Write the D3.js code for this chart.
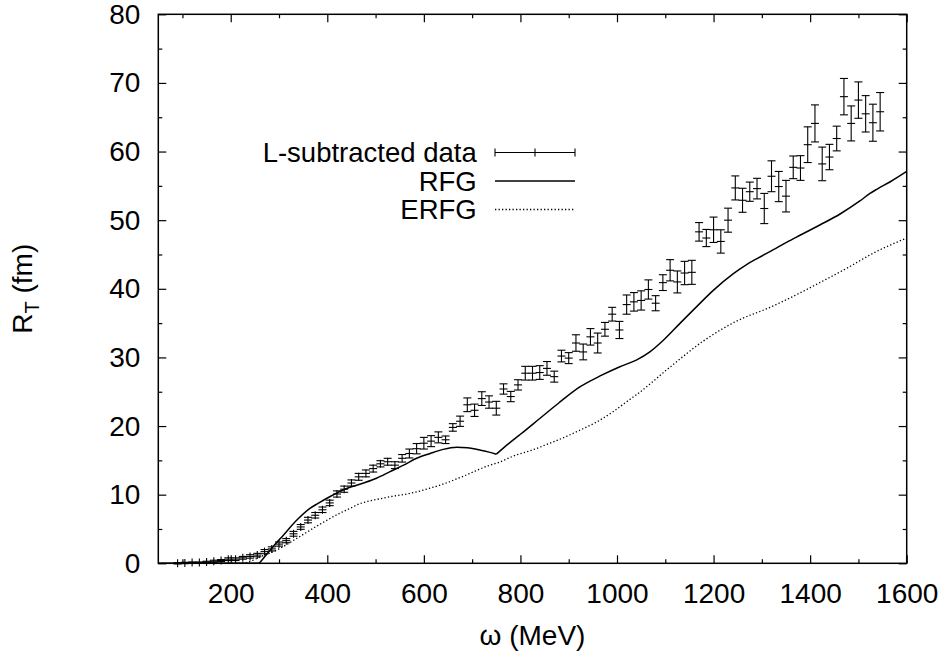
<!DOCTYPE html>
<html>
<head>
<meta charset="utf-8">
<script src="https://cdn.jsdelivr.net/npm/d3@7"></script>
<style>
  body { margin: 0; background: #fff; }
  text { font-family: "Liberation Sans", Arial, Helvetica, sans-serif; fill: #000; }
</style>
</head>
<body>
<svg id="chart" width="949" height="657"></svg>
<script>
// L-subtracted data: omega (MeV), R_T (fm), error
const omega = [
  90, 105, 120, 135, 150, 165, 180, 195, 210, 225, 240, 255, 270, 285, 300,
  315, 330, 345, 360, 375, 390, 405, 420, 435, 450,
  465, 480, 495, 510, 525, 540, 555, 570, 585, 600,
  615, 630, 645, 660, 675, 690, 705, 720, 735, 750,
  765, 780, 795, 810, 825, 840, 855, 870, 885, 900,
  915, 930, 945, 960, 975, 990, 1005, 1020, 1035, 1050,
  1065, 1080, 1095, 1110, 1125, 1140, 1155, 1170, 1185, 1200,
  1215, 1230, 1245, 1260, 1275, 1290, 1305, 1320, 1335, 1350,
  1365, 1380, 1395, 1410, 1425, 1440, 1455, 1470, 1485, 1500,
  1515, 1530, 1545
];
const rtData = [
  0.0, 0.05, 0.1, 0.1, 0.2, 0.3, 0.4, 0.6, 0.6, 0.8, 1.0, 1.2, 1.7, 2.1, 2.8,
  3.3, 4.3, 5.3, 6.3, 7.0, 7.8, 8.8, 10.1, 10.8, 11.7,
  12.6, 13.1, 13.8, 14.5, 14.8, 14.3, 15.3, 16.0, 16.7, 17.5,
  17.8, 18.35, 18.0, 19.8, 20.7, 23.1, 22.3, 24.0, 23.5, 22.6,
  25.4, 24.3, 26.0, 27.7, 27.7, 27.8, 28.4, 27.2, 30.2, 29.9,
  32.1, 30.8, 33.0, 32.1, 34.1, 36.3, 34.0, 37.7, 38.1, 38.3,
  39.9, 37.9, 40.9, 42.7, 41.0, 42.3, 42.4, 48.3, 47.4, 48.6,
  46.9, 50.0, 54.7, 52.9, 54.15, 54.6, 51.7, 56.4, 54.9, 53.5,
  57.7, 57.6, 61.0, 64.1, 58.2, 59.2, 61.9, 68.0, 64.1, 67.5,
  65.5, 64.2, 65.8
];
const rtErr = [
  0.1, 0.1, 0.1, 0.1, 0.1, 0.15, 0.15, 0.2, 0.2, 0.2, 0.25, 0.25, 0.3, 0.3, 0.3,
  0.3, 0.35, 0.35, 0.4, 0.4, 0.4, 0.4, 0.45, 0.45, 0.45,
  0.5, 0.5, 0.5, 0.45, 0.5, 0.5, 0.55, 0.65, 0.75, 0.85,
  0.8, 0.8, 0.55, 0.55, 0.75, 1.0, 0.9, 1.0, 0.9, 1.0,
  0.75, 0.75, 0.75, 1.0, 1.0, 1.0, 1.0, 0.8, 0.85, 0.8,
  1.2, 1.15, 1.2, 1.45, 1.0, 1.0, 1.25, 1.4, 1.35, 1.4,
  1.4, 1.1, 1.15, 1.55, 1.6, 1.7, 1.75, 1.35, 1.25, 1.85,
  1.7, 1.75, 1.75, 1.75, 1.4, 1.5, 2.2, 2.25, 2.2, 2.3,
  1.65, 1.8, 2.6, 2.7, 2.45, 1.85, 1.8, 2.65, 2.55, 2.65,
  2.65, 2.7, 2.8
];

// RFG curve (threshold at 259 MeV, cusp at 750 MeV)
const rfgOmega = [50, 259, 272, 285, 309, 337, 364, 380, 405, 440, 475, 502, 530, 558, 585,
  613, 640, 668, 690, 716, 735, 750, 775, 800, 840, 880, 923, 965, 1006, 1040, 1068, 1096,
  1131, 1165, 1200, 1241, 1270, 1290, 1324, 1352, 1379, 1420, 1462, 1503, 1524, 1538, 1566, 1600];
const rfgR = [0, 0, 1.1, 2.2, 4.1, 6.3, 8.0, 8.7, 9.7, 10.9, 11.7, 12.4, 13.35, 14.3, 15.3,
  16.0, 16.6, 16.9, 16.85, 16.5, 16.2, 15.9, 17.4, 18.8, 21.1, 23.4, 25.7, 27.3, 28.65, 29.6, 30.8, 32.5,
  35.0, 37.4, 39.8, 42.2, 43.6, 44.4, 45.7, 46.8, 47.8, 49.3, 50.9, 52.8, 53.9, 54.5, 55.6, 57.1];

// ERFG curve
const erfgOmega = [50, 220, 235, 260, 300, 343, 385, 426, 447, 468, 482, 509, 530, 565, 585,
  610, 634, 682, 737, 751, 792, 820, 861, 889, 920, 958, 990, 1027, 1041, 1110, 1179, 1248,
  1317, 1365, 1420, 1476, 1531, 1600];
const erfgR = [0, 0, 0.15, 0.9, 2.1, 3.9, 5.7, 7.3, 8.0, 8.7, 9.0, 9.4, 9.7, 10.1, 10.4,
  10.9, 11.4, 12.7, 14.3, 14.6, 15.8, 16.4, 17.5, 18.3, 19.3, 20.6, 22.0, 23.9, 24.6, 28.6, 32.4, 35.3,
  37.3, 38.9, 40.9, 43.0, 45.2, 47.4];

const xTicks = [200, 400, 600, 800, 1000, 1200, 1400, 1600];
const xMinor = [100, 300, 500, 700, 900, 1100, 1300, 1500];
const yTicks = [0, 10, 20, 30, 40, 50, 60, 70, 80];
const yMinor = [5, 15, 25, 35, 45, 55, 65, 75];

const legendLabels = ["L-subtracted data", "RFG", "ERFG"];

const svg = d3.select("#chart");
const fontSize = 28;

const x = d3.scaleLinear().domain([50, 1600]).range([158.3, 906.7]);
const y = d3.scaleLinear().domain([0, 80]).range([563.3, 14.3]);
const [x0, x1] = x.range();
const [y0, y1] = y.range();

function styleAxis(g) {
  g.select(".domain").remove();
  g.selectAll(".tick line").attr("stroke", "#000").attr("stroke-width", 1.2);
  g.selectAll(".tick text").attr("font-size", fontSize).attr("font-family", null);
}

// bottom axis with labels
svg.append("g").attr("transform", `translate(0,${y0})`)
  .call(d3.axisBottom(x).tickValues(xTicks).tickSize(-8).tickPadding(20).tickFormat(d3.format("d")))
  .call(styleAxis);
svg.append("g").attr("transform", `translate(0,${y0})`)
  .call(d3.axisBottom(x).tickValues(xMinor).tickSize(-4).tickFormat(""))
  .call(styleAxis);
// top mirror
svg.append("g").attr("transform", `translate(0,${y1})`)
  .call(d3.axisTop(x).tickValues(xTicks).tickSize(-8).tickFormat(""))
  .call(styleAxis);
svg.append("g").attr("transform", `translate(0,${y1})`)
  .call(d3.axisTop(x).tickValues(xMinor).tickSize(-4).tickFormat(""))
  .call(styleAxis);
// left axis with labels
svg.append("g").attr("transform", `translate(${x0},0)`)
  .call(d3.axisLeft(y).tickValues(yTicks).tickSize(-8).tickPadding(18))
  .call(styleAxis);
svg.append("g").attr("transform", `translate(${x0},0)`)
  .call(d3.axisLeft(y).tickValues(yMinor).tickSize(-4).tickFormat(""))
  .call(styleAxis);
// right mirror
svg.append("g").attr("transform", `translate(${x1},0)`)
  .call(d3.axisRight(y).tickValues(yTicks).tickSize(-8).tickFormat(""))
  .call(styleAxis);
svg.append("g").attr("transform", `translate(${x1},0)`)
  .call(d3.axisRight(y).tickValues(yMinor).tickSize(-4).tickFormat(""))
  .call(styleAxis);

// frame
svg.append("rect")
  .attr("x", x0).attr("y", y1)
  .attr("width", x1 - x0).attr("height", y0 - y1)
  .attr("fill", "none").attr("stroke", "#000").attr("stroke-width", 1.5);

// axis titles
svg.append("text")
  .attr("x", (x0 + x1) / 2).attr("y", 645)
  .attr("text-anchor", "middle").attr("font-size", fontSize)
  .text("ω (MeV)");

const yTitle = svg.append("text")
  .attr("transform", `translate(32,${(y0 + y1) / 2}) rotate(-90)`)
  .attr("text-anchor", "middle").attr("font-size", fontSize);
yTitle.append("tspan").text("R");
yTitle.append("tspan").attr("font-size", 20).attr("dy", 7).text("T");
yTitle.append("tspan").attr("dy", -7).text(" (fm)");

// curves
const smooth = d3.line().x(d => x(d[0])).y(d => y(d[1])).curve(d3.curveMonotoneX);
const rfgPts = rfgOmega.map((w, i) => [w, rfgR[i]]);
const cusp = rfgOmega.indexOf(750);
const thr = rfgOmega.indexOf(259);
[rfgPts.slice(0, thr + 1), rfgPts.slice(thr, cusp + 1), rfgPts.slice(cusp)].forEach(seg => {
  svg.append("path")
    .datum(seg)
    .attr("d", smooth).attr("fill", "none").attr("stroke", "#000").attr("stroke-width", 1.5);
});
svg.append("path")
  .datum(erfgOmega.map((w, i) => [w, erfgR[i]]))
  .attr("d", smooth).attr("fill", "none").attr("stroke", "#000").attr("stroke-width", 1.3)
  .attr("stroke-dasharray", "1.3,2.2");

// data with error bars
const cap = 4;
const pts = svg.append("g").attr("stroke", "#000").attr("stroke-width", 1.1);
omega.forEach((w, i) => {
  const cx = x(w), cy = y(rtData[i]);
  const yl = y(rtData[i] - rtErr[i]), yh = y(rtData[i] + rtErr[i]);
  const g = pts.append("g");
  g.append("line").attr("x1", cx).attr("x2", cx).attr("y1", Math.max(yl, cy + 4)).attr("y2", Math.min(yh, cy - 4));
  g.append("line").attr("x1", cx - cap).attr("x2", cx + cap).attr("y1", yl).attr("y2", yl);
  g.append("line").attr("x1", cx - cap).attr("x2", cx + cap).attr("y1", yh).attr("y2", yh);
  g.append("line").attr("x1", cx - cap).attr("x2", cx + cap).attr("y1", cy).attr("y2", cy);
});

// legend
const legX = 476.7, sx0 = 495, sx1 = 575;
const legY = [152.5, 181, 209.5];
legendLabels.forEach((lab, i) => {
  svg.append("text")
    .attr("x", legX).attr("y", legY[i]).attr("dy", "0.35em")
    .attr("text-anchor", "end").attr("font-size", 27.5)
    .text(lab);
});
const lg = svg.append("g").attr("stroke", "#000").attr("stroke-width", 1.1);
lg.append("line").attr("x1", sx0).attr("x2", sx1).attr("y1", legY[0]).attr("y2", legY[0]);
lg.append("line").attr("x1", sx0).attr("x2", sx0).attr("y1", legY[0] - 4).attr("y2", legY[0] + 4);
lg.append("line").attr("x1", sx1).attr("x2", sx1).attr("y1", legY[0] - 4).attr("y2", legY[0] + 4);
lg.append("line").attr("x1", (sx0 + sx1) / 2).attr("x2", (sx0 + sx1) / 2).attr("y1", legY[0] - 4).attr("y2", legY[0] + 4);
svg.append("line").attr("x1", sx0).attr("x2", sx1).attr("y1", legY[1]).attr("y2", legY[1])
  .attr("stroke", "#000").attr("stroke-width", 1.5);
svg.append("line").attr("x1", sx0).attr("x2", sx1).attr("y1", legY[2]).attr("y2", legY[2])
  .attr("stroke", "#000").attr("stroke-width", 1.3).attr("stroke-dasharray", "1.3,2.2");
</script>
</body>
</html>
